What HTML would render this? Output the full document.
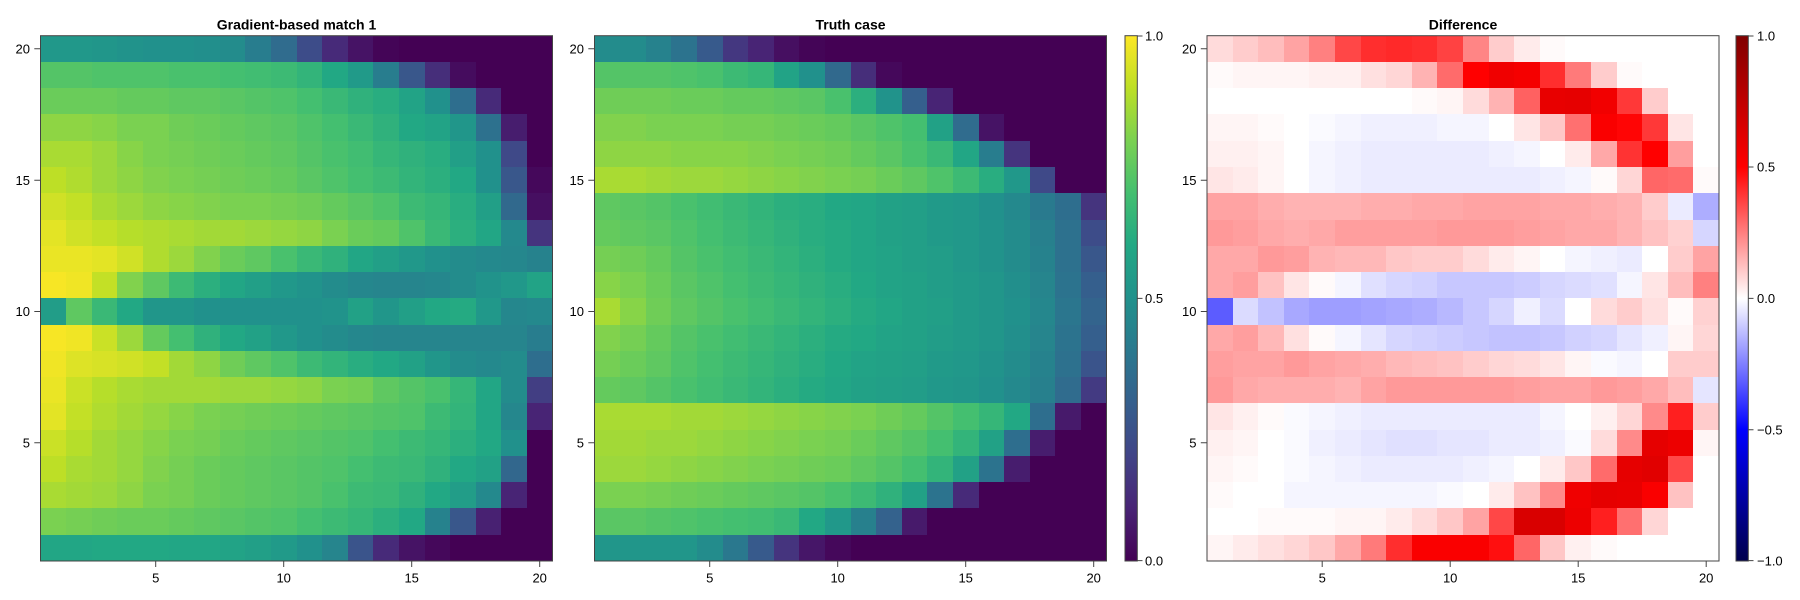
<!DOCTYPE html>
<html><head><meta charset="utf-8"><style>
html,body{margin:0;padding:0;background:#fff;width:1800px;height:600px;overflow:hidden}
svg{display:block}
text{font-family:"Liberation Sans",Arial,sans-serif;fill:#000}
.t{font-weight:bold;font-size:14px}
.k{font-size:13px}
</style></head><body>
<svg id="s" width="1800" height="600" viewBox="0 0 1800 600" xmlns="http://www.w3.org/2000/svg">
<defs>
<linearGradient id="gv" x1="0" y1="1" x2="0" y2="0">
<stop offset="0" stop-color="rgb(68,1,84)"/>
<stop offset="0.1" stop-color="rgb(72,36,117)"/>
<stop offset="0.2" stop-color="rgb(65,68,135)"/>
<stop offset="0.3" stop-color="rgb(53,95,141)"/>
<stop offset="0.4" stop-color="rgb(42,120,142)"/>
<stop offset="0.5" stop-color="rgb(33,145,140)"/>
<stop offset="0.6" stop-color="rgb(34,168,132)"/>
<stop offset="0.7" stop-color="rgb(68,191,112)"/>
<stop offset="0.8" stop-color="rgb(122,209,81)"/>
<stop offset="0.9" stop-color="rgb(189,223,38)"/>
<stop offset="1" stop-color="rgb(253,231,37)"/>
</linearGradient>
<linearGradient id="gs" x1="0" y1="1" x2="0" y2="0">
<stop offset="0" stop-color="rgb(0,0,77)"/>
<stop offset="0.25" stop-color="rgb(0,0,255)"/>
<stop offset="0.5" stop-color="rgb(255,255,255)"/>
<stop offset="0.75" stop-color="rgb(255,0,0)"/>
<stop offset="1" stop-color="rgb(128,0,0)"/>
</linearGradient>
</defs>
<g id="h1"></g><g id="h2"></g><g id="h3"></g>

<!-- spines -->
<g fill="none" stroke="#444" stroke-width="1">
<rect x="40.5" y="35.7" width="512" height="525.3"/>
<rect x="594.5" y="35.7" width="512" height="525.3"/>
<rect x="1207" y="35.7" width="512" height="525.3"/>
</g>
<rect x="1125" y="35.7" width="12.3" height="525.3" fill="url(#gv)" stroke="#444" stroke-width="1"/>
<rect x="1736" y="35.7" width="12.3" height="525.3" fill="url(#gs)" stroke="#444" stroke-width="1"/>

<!-- ticks -->
<g stroke="#444" stroke-width="1">
<path d="M34.3 48.8H40.5M34.3 180.2H40.5M34.3 311.5H40.5M34.3 442.8H40.5"/>
<path d="M155.7 561V567M283.7 561V567M411.7 561V567M539.7 561V567"/>
<path d="M588.3 48.8H594.5M588.3 180.2H594.5M588.3 311.5H594.5M588.3 442.8H594.5"/>
<path d="M709.7 561V567M837.7 561V567M965.7 561V567M1093.7 561V567"/>
<path d="M1200.8 48.8H1207M1200.8 180.2H1207M1200.8 311.5H1207M1200.8 442.8H1207"/>
<path d="M1322.2 561V567M1450.2 561V567M1578.2 561V567M1706.2 561V567"/>
<path d="M1137.3 36H1142.5M1137.3 298.4H1142.5M1137.3 560.6H1142.5"/>
<path d="M1748.3 36H1753.5M1748.3 167H1753.5M1748.3 298.4H1753.5M1748.3 429.7H1753.5M1748.3 560.6H1753.5"/>
</g>

<!-- titles -->
<text class="t" x="296.5" y="29.3" text-anchor="middle">Gradient-based match 1</text>
<text class="t" x="850.5" y="29.3" text-anchor="middle">Truth case</text>
<text class="t" x="1463" y="29.3" text-anchor="middle">Difference</text>

<!-- y tick labels -->
<g class="k" text-anchor="end">
<text class="k" x="30" y="53.4">20</text>
<text class="k" x="30" y="184.8">15</text>
<text class="k" x="30" y="316.1">10</text>
<text class="k" x="30" y="447.4">5</text>
<text class="k" x="584" y="53.4">20</text>
<text class="k" x="584" y="184.8">15</text>
<text class="k" x="584" y="316.1">10</text>
<text class="k" x="584" y="447.4">5</text>
<text class="k" x="1196.5" y="53.4">20</text>
<text class="k" x="1196.5" y="184.8">15</text>
<text class="k" x="1196.5" y="316.1">10</text>
<text class="k" x="1196.5" y="447.4">5</text>
</g>
<!-- x tick labels -->
<g text-anchor="middle">
<text class="k" x="155.7" y="582.5">5</text>
<text class="k" x="283.7" y="582.5">10</text>
<text class="k" x="411.7" y="582.5">15</text>
<text class="k" x="539.7" y="582.5">20</text>
<text class="k" x="709.7" y="582.5">5</text>
<text class="k" x="837.7" y="582.5">10</text>
<text class="k" x="965.7" y="582.5">15</text>
<text class="k" x="1093.7" y="582.5">20</text>
<text class="k" x="1322.2" y="582.5">5</text>
<text class="k" x="1450.2" y="582.5">10</text>
<text class="k" x="1578.2" y="582.5">15</text>
<text class="k" x="1706.2" y="582.5">20</text>
</g>
<!-- colorbar labels -->
<text class="k" x="1145" y="40.6">1.0</text>
<text class="k" x="1145" y="303">0.5</text>
<text class="k" x="1145" y="565.4">0.0</text>
<text class="k" x="1757" y="40.6">1.0</text>
<text class="k" x="1757" y="171.6">0.5</text>
<text class="k" x="1757" y="303">0.0</text>
<text class="k" x="1757" y="434.3">−0.5</text>
<text class="k" x="1757" y="565.4">−1.0</text>
</svg>
<script>
var P1="53,53,52,51,50,50,49,48,42,35,23,12,5,1,0,0,0,0,0,0;\
73,73,72,72,72,71,71,70,69,68,65,60,54,42,27,13,3,0,0,0;\
77,77,77,76,76,75,75,74,73,72,70,67,64,62,58,50,36,12,0,0;\
83,83,82,80,80,78,77,76,75,74,72,70,67,64,60,58,52,37,8,0;\
87,87,85,82,80,79,78,77,76,75,73,71,69,66,64,62,56,50,22,0;\
90,88,85,83,81,80,79,78,77,76,74,72,70,68,65,63,60,50,27,2;\
93,91,87,85,83,82,81,80,80,79,78,76,74,72,68,66,62,56,34,4;\
96,93,91,89,88,87,86,86,85,84,83,80,77,76,72,67,63,59,47,15;\
97,97,96,93,88,85,81,77,75,71,67,64,59,56,53,50,48,47,46,44;\
99,98,91,81,75,68,63,59,56,53,51,48,46,45,45,46,48,51,53,58;\
55,75,67,60,52,52,50,50,50,50,50,51,57,52,56,60,61,53,46,47;\
99,98,92,85,76,70,64,60,57,53,50,48,46,45,45,45,45,45,45,42;\
98,95,94,93,91,86,83,78,75,72,68,65,62,60,57,52,48,47,48,36;\
97,92,89,87,86,86,86,85,85,84,83,80,79,75,73,71,66,59,48,18;\
96,91,88,86,84,82,80,79,78,77,76,75,74,73,72,68,65,59,46,10;\
92,89,86,84,82,80,79,77,76,75,74,73,72,70,68,66,63,60,50,0;\
90,87,86,84,81,79,77,76,75,74,73,72,70,68,67,64,60,57,33,0;\
87,86,85,83,80,79,77,76,75,74,73,71,68,67,64,60,55,47,10,0;\
80,79,78,77,77,76,75,74,73,72,70,68,66,63,60,44,27,9,0,0;\
59,59,60,60,60,59,59,58,56,54,50,45,26,12,5,2,0,0,0,0";
var P2="48,48,44,38,28,16,10,4,1,0,0,0,0,0,0,0,0,0,0,0;\
73,73,73,72,71,68,66,58,50,34,13,2,0,0,0,0,0,0,0,0;\
78,78,78,77,77,76,76,75,74,71,63,51,30,10,0,0,0,0,0,0;\
81,81,80,80,80,79,79,78,77,76,74,72,70,57,35,5,0,0,0,0;\
83,83,83,82,82,82,81,80,79,78,76,74,71,67,59,42,15,0,0,0;\
87,87,86,85,85,84,83,82,81,80,79,77,75,72,68,62,53,22,0,0;\
75,74,73,71,69,67,65,63,62,60,59,57,56,54,53,50,47,41,36,15;\
76,75,74,72,70,68,66,64,62,61,59,57,56,54,53,51,48,43,37,23;\
79,78,76,73,71,69,67,65,63,61,59,58,56,55,53,51,48,44,37,27;\
82,80,77,74,72,70,68,66,64,62,60,58,57,55,54,52,49,45,38,30;\
87,82,78,75,73,71,69,67,65,63,61,59,57,56,54,52,50,46,39,32;\
81,79,76,73,71,69,67,65,63,61,60,58,57,55,54,52,49,45,38,30;\
79,77,75,72,70,68,66,64,62,60,58,57,56,54,53,51,48,44,37,26;\
76,75,73,71,69,67,65,63,61,59,57,56,55,53,52,50,47,43,35,17;\
87,87,87,86,86,85,84,83,82,81,80,78,76,73,70,66,60,36,7,0;\
86,86,85,85,84,83,82,81,80,79,77,75,73,70,65,57,36,8,0,0;\
85,85,84,83,82,81,80,79,78,77,75,73,70,65,57,38,8,0,0,0;\
80,80,79,78,77,76,75,74,73,71,68,64,57,38,12,0,0,0,0,0;\
74,74,73,72,71,70,69,67,60,53,43,31,7,0,0,0,0,0,0,0;\
52,52,52,52,48,40,28,15,6,2,0,0,0,0,0,0,0,0,0,0";
var P3="7,10,13,18,25,36,41,42,41,37,24,10,4,1,0,0,0,0,0,0;\
1,2,2,2,3,3,6,8,15,29,50,56,54,41,26,10,1,0,0,0;\
0,0,0,0,0,0,0,0,1,2,7,15,31,59,60,55,39,10,0,0;\
2,2,1,0,-1,-2,-3,-3,-3,-2,-2,0,5,11,28,52,49,39,5,0;\
3,3,2,0,-2,-3,-4,-4,-4,-4,-4,-3,-2,0,4,17,40,50,19,0;\
5,4,2,0,-2,-3,-4,-4,-4,-4,-4,-4,-4,-3,-2,1,8,30,29,1;\
18,18,16,15,15,15,16,16,17,17,18,18,18,17,17,16,15,10,-4,-16;\
20,19,17,16,17,19,19,19,19,20,20,20,19,18,17,17,15,12,9,-8;\
17,17,20,19,15,14,14,11,10,10,7,4,2,0,-2,-3,-4,0,10,18;\
17,19,12,5,1,-2,-6,-8,-9,-11,-11,-11,-10,-8,-7,-6,-2,5,13,25;\
-32,-7,-12,-17,-19,-19,-18,-17,-16,-14,-11,-8,-3,-7,0,7,10,6,1,9;\
17,19,14,6,1,-2,-5,-8,-9,-10,-11,-12,-12,-11,-9,-8,-5,-3,2,8;\
19,18,18,20,18,17,16,14,13,12,10,8,7,5,2,-1,-2,0,10,10;\
20,17,16,16,16,15,18,20,20,20,20,20,19,18,18,20,19,17,13,-5;\
5,3,1,-1,-2,-3,-4,-4,-4,-4,-4,-4,-4,-2,0,3,8,23,44,10;\
3,2,0,-1,-3,-4,-5,-6,-6,-5,-5,-4,-4,-3,-1,7,23,60,57,2;\
2,1,0,-1,-2,-3,-4,-4,-4,-4,-3,-2,0,4,11,29,60,62,36,0;\
1,0,0,-2,-2,-2,-2,-2,-2,-1,0,4,12,23,56,60,59,52,12,0;\
0,0,1,1,1,2,2,4,7,11,18,36,65,65,57,44,28,8,0,0;\
2,4,6,8,11,17,26,41,52,52,52,47,30,11,3,1,0,0,0,0";
var V=[[68,1,84],[72,36,117],[65,68,135],[53,95,141],[42,120,142],[33,145,140],[34,168,132],[68,191,112],[122,209,81],[189,223,38],[253,231,37]];
function vir(t){t=Math.max(0,Math.min(1,t));var x=t*10,i=Math.min(9,Math.floor(x)),f=x-i,a=V[i],b=V[i+1];
 return 'rgb('+Math.round(a[0]+(b[0]-a[0])*f)+','+Math.round(a[1]+(b[1]-a[1])*f)+','+Math.round(a[2]+(b[2]-a[2])*f)+')';}
var S=[[0,0,77],[0,0,255],[255,255,255],[255,0,0],[128,0,0]];
function sei(d){var t=Math.max(0,Math.min(1,(d+1)/2));var x=t*4,i=Math.min(3,Math.floor(x)),f=x-i,a=S[i],b=S[i+1];
 return 'rgb('+Math.round(a[0]+(b[0]-a[0])*f)+','+Math.round(a[1]+(b[1]-a[1])*f)+','+Math.round(a[2]+(b[2]-a[2])*f)+')';}
var NS="http://www.w3.org/2000/svg";
function draw(id,x0,data,fn){
 var g=document.getElementById(id),rows=data.split(';'),w=25.6,h=525.3/20,y0=35.7;
 for(var r=0;r<20;r++){var v=rows[r].split(',');
  var ya=Math.round(y0+r*h),yb=Math.round(y0+(r+1)*h);
  for(var c=0;c<20;c++){var xa=Math.round(x0+c*w),xb=Math.round(x0+(c+1)*w);
   var e=document.createElementNS(NS,'rect');
   e.setAttribute('x',xa);e.setAttribute('y',ya);e.setAttribute('width',xb-xa);e.setAttribute('height',yb-ya);
   e.setAttribute('fill',fn(parseFloat(v[c])/100));g.appendChild(e);}}}
draw('h1',40.5,P1,vir);
draw('h2',594.5,P2,vir);
draw('h3',1207,P3,sei);
</script>
</body></html>
